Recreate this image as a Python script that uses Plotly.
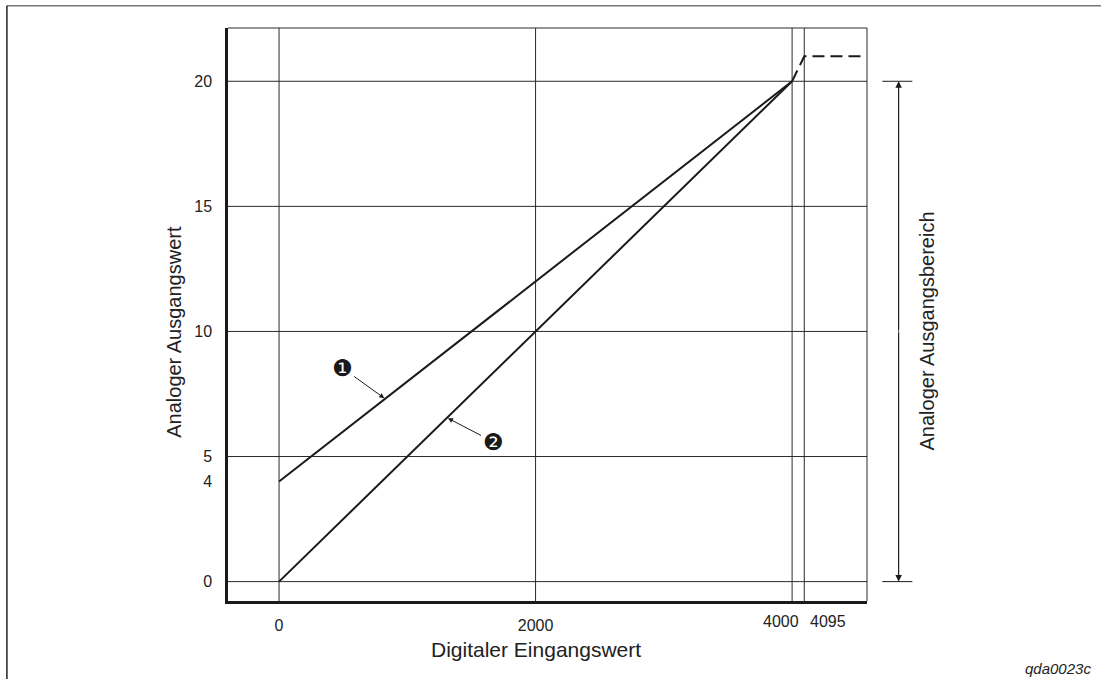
import plotly.graph_objects as go

# ---- data ----
digital = [0, 4000]
output_1 = [4, 20]          # curve 1 (4..20)
output_2 = [0, 20]          # curve 2 (0..20)
sat_x = [4000, 4095, 4545]  # saturation (dashed)
sat_y = [20, 21, 21]

x_ticks = [0, 2000]
x_tick_text = ["0", "2000"]
x_end_ticks = [4000, 4095]
x_end_text = ["4000", "4095"]
y_ticks = [0, 4, 5, 10, 15, 20]
y_tick_text = ["0", "4", "5", "10", "15", "20"]
x_grid = [0, 2000, 4000, 4095]
y_grid = [0, 5, 10, 15, 20]
range_lo, range_hi = 0, 20

x_title = "Digitaler Eingangswert"
y_title = "Analoger Ausgangswert"
right_title = "Analoger Ausgangsbereich"
code_text = "qda0023c"

FONT = "Liberation Sans, Arial, Helvetica, sans-serif"
INK = "#1a1a1a"
GRID = "#2a2a2a"

fig = go.Figure()
fig.add_trace(go.Scatter(x=digital, y=output_1, mode="lines",
                         line=dict(color=INK, width=2), showlegend=False))
fig.add_trace(go.Scatter(x=digital, y=output_2, mode="lines",
                         line=dict(color=INK, width=2), showlegend=False))
fig.add_trace(go.Scatter(x=sat_x, y=sat_y, mode="lines",
                         line=dict(color=INK, width=2, dash="12px,6px"), showlegend=False))

shapes = []
for gx in x_grid:
    shapes.append(dict(type="line", xref="x", yref="paper", x0=gx, x1=gx, y0=0, y1=1,
                       line=dict(color=GRID, width=1), layer="below"))
for gy in y_grid:
    shapes.append(dict(type="line", xref="paper", yref="y", x0=0, x1=1, y0=gy, y1=gy,
                       line=dict(color=GRID, width=1), layer="below"))
# thin top/right frame
shapes.append(dict(type="line", xref="paper", yref="paper", x0=0, x1=1, y0=1, y1=1,
                   line=dict(color=GRID, width=1)))
shapes.append(dict(type="line", xref="paper", yref="paper", x0=1, x1=1, y0=0, y1=1,
                   line=dict(color=GRID, width=1)))
# range bracket ticks on the right
for v in (range_lo, range_hi):
    shapes.append(dict(type="line", xref="paper", yref="y", x0=1.024, x1=1.071, y0=v, y1=v,
                       line=dict(color=INK, width=1)))
shapes.append(dict(type="line", xref="paper", yref="y", x0=1.0495, x1=1.0495,
                   y0=range_lo, y1=range_hi, line=dict(color="#555555", width=1)))
# outer picture border (top and left)
shapes.append(dict(type="line", xref="paper", yref="paper", x0=-0.346, x1=1.37, y0=1.039, y1=1.039,
                   line=dict(color="#777777", width=1.5)))
shapes.append(dict(type="line", xref="paper", yref="paper", x0=-0.346, x1=-0.346, y0=-0.14, y1=1.039,
                   line=dict(color="#222222", width=1.5)))

annotations = [
    # arrowheads of the range bracket
    dict(xref="paper", yref="y", x=1.0495, y=range_hi, text="", showarrow=True,
         axref="pixel", ayref="y", ax=0, ay=(range_lo + range_hi) / 2,
         arrowhead=2, arrowsize=1.3, arrowwidth=1, arrowcolor=INK),
    dict(xref="paper", yref="y", x=1.0495, y=range_lo, text="", showarrow=True,
         axref="pixel", ayref="y", ax=0, ay=(range_lo + range_hi) / 2,
         arrowhead=2, arrowsize=1.3, arrowwidth=1, arrowcolor=INK),
    # curve markers
    dict(xref="x", yref="y", x=827, y=output_1[0] + (output_1[1] - output_1[0]) * 827 / 4000,
         text="❶", font=dict(family="DejaVu Sans", size=23, color=INK),
         showarrow=True, ax=-43, ay=-31, arrowhead=2, arrowsize=1, arrowwidth=1,
         arrowcolor=INK, standoff=1),
    dict(xref="x", yref="y", x=1310, y=output_2[0] + (output_2[1] - output_2[0]) * 1310 / 4000,
         text="❷", font=dict(family="DejaVu Sans", size=23, color=INK),
         showarrow=True, ax=46, ay=24, arrowhead=2, arrowsize=1, arrowwidth=1,
         arrowcolor=INK, standoff=1),
    # axis titles
    dict(xref="x", yref="paper", x=2000, y=-0.084, text=x_title, showarrow=False,
         font=dict(family=FONT, size=21, color="#222222"), yanchor="middle"),
    dict(xref="paper", yref="y", x=-0.084, y=10, text=y_title, showarrow=False, textangle=-90,
         font=dict(family=FONT, size=20, color="#222222"), xanchor="center"),
    dict(xref="paper", yref="y", x=1.094, y=10, text=right_title, showarrow=False, textangle=-90,
         font=dict(family=FONT, size=20, color="#222222"), xanchor="center"),
    dict(xref="paper", yref="paper", x=1.354, y=-0.118, text=code_text, showarrow=False,
         font=dict(family=FONT, size=15, color="#222222", style="italic"),
         xanchor="right", yanchor="middle"),
]
# end tick labels (4000 / 4095), nudged apart like the reference
for xv, txt, shift in zip(x_end_ticks, x_end_text, (-11, 24)):
    annotations.append(dict(xref="x", yref="paper", x=xv, y=0, yshift=-20, xshift=shift,
                            text=txt, showarrow=False, yanchor="middle",
                            font=dict(family=FONT, size=16, color="#222222")))

fig.update_layout(
    width=1101, height=679,
    margin=dict(l=228, r=234, t=28, b=78),
    paper_bgcolor="white", plot_bgcolor="white",
    font=dict(family=FONT, size=16, color="#222222"),
    shapes=shapes, annotations=annotations,
    xaxis=dict(range=[-398, 4584], tickvals=x_ticks, ticktext=x_tick_text, tickangle=0,
               showgrid=False, zeroline=False, showline=True, linecolor=INK, linewidth=2.5,
               ticks="", ticklabelstandoff=8, tickfont=dict(size=16)),
    yaxis=dict(range=[-0.775, 22.13], tickvals=y_ticks, ticktext=y_tick_text,
               showgrid=False, zeroline=False, showline=True, linecolor=INK, linewidth=2.5,
               ticks="", ticklabelstandoff=10, tickfont=dict(size=16)),
)

fig.write_html("out.html", config={"displayModeBar": False},
               post_script="document.body.style.margin='0';document.body.style.padding='0';")
